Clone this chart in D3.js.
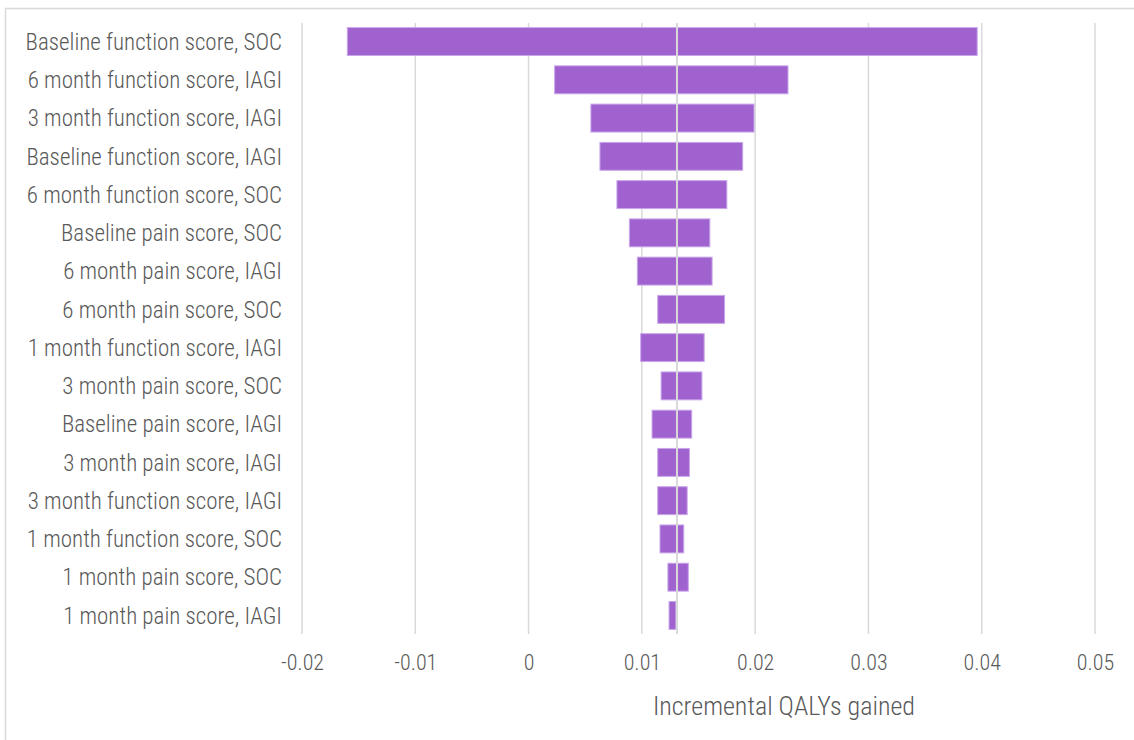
<!DOCTYPE html>
<html>
<head>
<meta charset="utf-8">
<script src="https://cdn.jsdelivr.net/npm/d3@7"></script>
<style>
  html, body { margin: 0; padding: 0; background: #ffffff; }
  svg { display: block; }
  text { font-family: "Roboto Condensed", "Liberation Sans Narrow", "Arial Narrow", sans-serif; font-weight: 300; fill: #595959; }
</style>
</head>
<body>
<svg id="chart" width="1134" height="740"></svg>
<script>
const categories = [
  "Baseline function score, SOC",
  "6 month function score, IAGI",
  "3 month function score, IAGI",
  "Baseline function score, IAGI",
  "6 month function score, SOC",
  "Baseline pain score, SOC",
  "6 month pain score, IAGI",
  "6 month pain score, SOC",
  "1 month function score, IAGI",
  "3 month pain score, SOC",
  "Baseline pain score, IAGI",
  "3 month pain score, IAGI",
  "3 month function score, IAGI",
  "1 month function score, SOC",
  "1 month pain score, SOC",
  "1 month pain score, IAGI"
];
const lowValues  = [-0.0160, 0.0023, 0.0055, 0.0063, 0.0078, 0.0089, 0.0096, 0.0114, 0.0099, 0.0117, 0.0109, 0.0114, 0.0114, 0.0116, 0.0123, 0.0124];
const highValues = [ 0.0396, 0.0229, 0.0199, 0.0189, 0.0175, 0.0160, 0.0162, 0.0173, 0.0155, 0.0153, 0.0144, 0.0142, 0.0140, 0.0137, 0.0141, 0.0130];
const baseValue = 0.0131;
const xTicks = [-0.02, -0.01, 0, 0.01, 0.02, 0.03, 0.04, 0.05];
const xTickLabels = ["-0.02", "-0.01", "0", "0.01", "0.02", "0.03", "0.04", "0.05"];
const axisTitle = "Incremental QALYs gained";

const svg = d3.select("#chart");
const plotLeft = 302, plotRight = 1095, plotTop = 23, plotBottom = 634;

// chart border
svg.append("rect")
  .attr("x", 5.5).attr("y", 8.5)
  .attr("width", 1140).attr("height", 740)
  .attr("fill", "none").attr("stroke", "#d9d9d9").attr("stroke-width", 1.5);

const x = d3.scaleLinear().domain([-0.02, 0.05]).range([plotLeft, plotRight]);
const y = d3.scaleBand().domain(d3.range(categories.length)).range([plotTop, plotBottom])
  .paddingInner(0.27).paddingOuter(0.12);

// gridlines
svg.append("g").selectAll("line").data(xTicks).join("line")
  .attr("x1", d => x(d)).attr("x2", d => x(d))
  .attr("y1", plotTop).attr("y2", plotBottom)
  .attr("stroke", "#d9d9d9").attr("stroke-width", 1.5);

// bars
const rows = categories.map((c, i) => ({ i, c, lo: lowValues[i], hi: highValues[i] }));
svg.append("g").selectAll("rect").data(rows).join("rect")
  .attr("x", d => x(d.lo))
  .attr("y", d => y(d.i))
  .attr("width", d => x(d.hi) - x(d.lo))
  .attr("height", y.bandwidth())
  .attr("fill", "#a062cf")
  .attr("stroke", "#c9a6ea").attr("stroke-width", 1);

// base line
svg.append("line")
  .attr("x1", x(baseValue)).attr("x2", x(baseValue))
  .attr("y1", plotTop).attr("y2", plotBottom)
  .attr("stroke", "#d9d9d9").attr("stroke-width", 2);

// category labels
svg.append("g").selectAll("text").data(rows).join("text")
  .attr("x", 282)
  .attr("y", d => y(d.i) + y.bandwidth() / 2)
  .attr("dy", "0.36em")
  .attr("text-anchor", "end")
  .attr("font-size", 23)
  .text(d => d.c);

// x tick labels
const xAxis = d3.axisBottom(x).tickValues(xTicks).tickSize(0)
  .tickFormat((d, i) => xTickLabels[i]);
const gx = svg.append("g").attr("transform", `translate(0,${plotBottom})`).call(xAxis);
gx.select(".domain").remove();
gx.selectAll("text")
  .attr("y", 28)
  .attr("dy", "0.36em")
  .attr("font-size", 22)
  .style("font-family", '"Roboto Condensed", "Liberation Sans Narrow", sans-serif')
  .attr("fill", "#595959");

// axis title
svg.append("text")
  .attr("x", 784).attr("y", 715)
  .attr("text-anchor", "middle")
  .attr("font-size", 26)
  .text(axisTitle);
</script>
</body>
</html>
